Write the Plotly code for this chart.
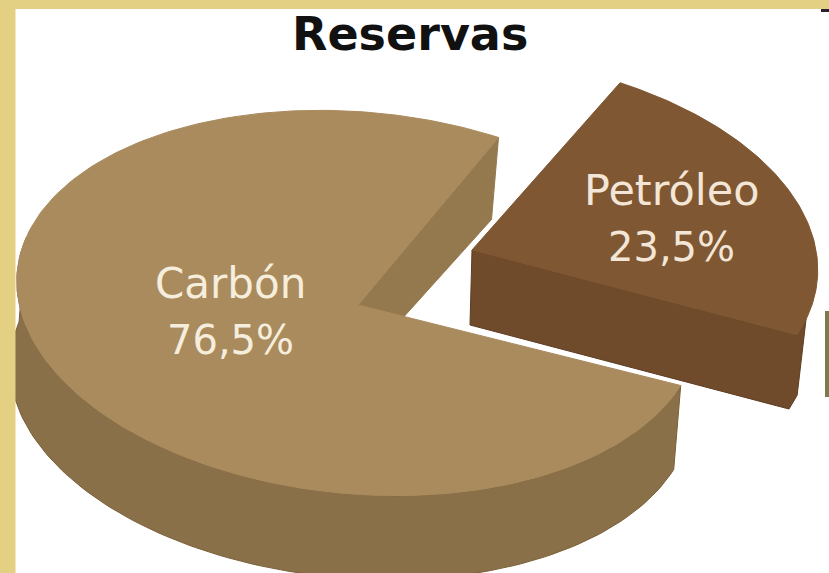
import numpy as np
import plotly.graph_objects as go

title = "Reservas"
categories = ["Carbón", "Petróleo"]
shares = [76.5, 23.5]

W, H = 829, 573
FRAME = "#E3D083"
TOP = ["#AA8B5E", "#7F5733"]
SIDE = ["#8A7048", "#6F4A2B"]
WALL = "#94794F"
EDGE = ["#7A6038", "#5E3D22"]

# projection of each slice's disc: apex, disc centre, axis vectors, depth vector
APEX = [(358, 305), (472, 250)]
CENTER = [(358, 303), (472, 250)]
AXIS_A = [(341, 16), (325, 85)]
AXIS_B = [(-10, -192), (118, -176)]
DEPTH = [(-7, 84), (-8, 74)]
APEX_DEPTH = (-2, 75)


def arc(i, t):
    t = np.radians(t)
    cx, cy = CENTER[i]
    return (cx + AXIS_A[i][0] * np.cos(t) + AXIS_B[i][0] * np.sin(t),
            cy + AXIS_A[i][1] * np.cos(t) + AXIS_B[i][1] * np.sin(t))


def poly(fig, x, y, color, line=None):
    fig.add_trace(go.Scatter(
        x=list(x) + [x[0]], y=list(y) + [y[0]], mode="lines", fill="toself",
        fillcolor=color, line=dict(color=line or color, width=1),
        hoverinfo="skip", showlegend=False))


fig = go.Figure()

# Carbón
c_start = 64.0
c_end = c_start + shares[0] * 3.6
t = np.linspace(165, c_end, 120)
ax, ay = arc(0, t)
poly(fig, np.r_[ax, ax[::-1] + DEPTH[0][0]], np.r_[ay, ay[::-1] + DEPTH[0][1]], SIDE[0], EDGE[0])
rx, ry = arc(0, np.array([c_start]))
wx = [APEX[0][0], rx[0], rx[0] - 7, APEX[0][0] - 2]
wy = [APEX[0][1], ry[0], ry[0] + 82, APEX[0][1] + 65]
poly(fig, wx, wy, WALL)
t = np.linspace(c_start, c_end, 240)
ax, ay = arc(0, t)
poly(fig, np.r_[APEX[0][0], ax], np.r_[APEX[0][1], ay], TOP[0])

# Petróleo
p_sweep = shares[1] * 3.6
t = np.linspace(0, 5, 10)
ax, ay = arc(1, t)
side_x = np.r_[APEX[1][0], ax, ax[::-1] + DEPTH[1][0], APEX[1][0] + APEX_DEPTH[0]]
side_y = np.r_[APEX[1][1], ay, ay[::-1] + DEPTH[1][1], APEX[1][1] + APEX_DEPTH[1]]
poly(fig, side_x, side_y, SIDE[1], EDGE[1])
t = np.linspace(0, p_sweep, 100)
ax, ay = arc(1, t)
poly(fig, np.r_[APEX[1][0], ax], np.r_[APEX[1][1], ay], TOP[1])

shapes = [
    dict(type="rect", xref="x", yref="y", x0=0, x1=W, y0=0, y1=9, fillcolor=FRAME, line_width=0, layer="above"),
    dict(type="rect", xref="x", yref="y", x0=0, x1=15.5, y0=0, y1=H, fillcolor=FRAME, line_width=0, layer="above"),
    dict(type="rect", xref="x", yref="y", x0=825, x1=W, y0=311, y1=397, fillcolor="#7D7A50", line_width=0, layer="above"),
    dict(type="rect", xref="x", yref="y", x0=821, x1=W, y0=9, y1=12, fillcolor="#2A2030", line_width=0, layer="above"),
]

LABEL_FONT = "DejaVu Sans"
annotations = [
    dict(x=410, y=34, text=f"<b>{title}</b>", font=dict(family=LABEL_FONT, size=46, color="#111111")),
    dict(x=230, y=283, text=categories[0], font=dict(family=LABEL_FONT, size=42, color="#F6EEDD")),
    dict(x=230, y=340, text=f"{shares[0]:.1f}%".replace(".", ","), font=dict(family=LABEL_FONT, size=40, color="#F6EEDD")),
    dict(x=671, y=190, text=categories[1], font=dict(family=LABEL_FONT, size=43, color="#F3E6D6")),
    dict(x=671, y=247, text=f"{shares[1]:.1f}%".replace(".", ","), font=dict(family=LABEL_FONT, size=40, color="#F3E6D6")),
]
for a in annotations:
    a.update(xref="x", yref="y", showarrow=False, xanchor="center", yanchor="middle")

fig.update_layout(
    width=W, height=H, margin=dict(l=0, r=0, t=0, b=0),
    paper_bgcolor="white", plot_bgcolor="white",
    xaxis=dict(range=[0, W], visible=False, fixedrange=True),
    yaxis=dict(range=[H, 0], visible=False, fixedrange=True),
    shapes=shapes, annotations=annotations, showlegend=False,
)
fig.write_html("out.html", config={"displayModeBar": False},
               post_script="document.body.style.margin='0';document.body.style.overflow='hidden';")
